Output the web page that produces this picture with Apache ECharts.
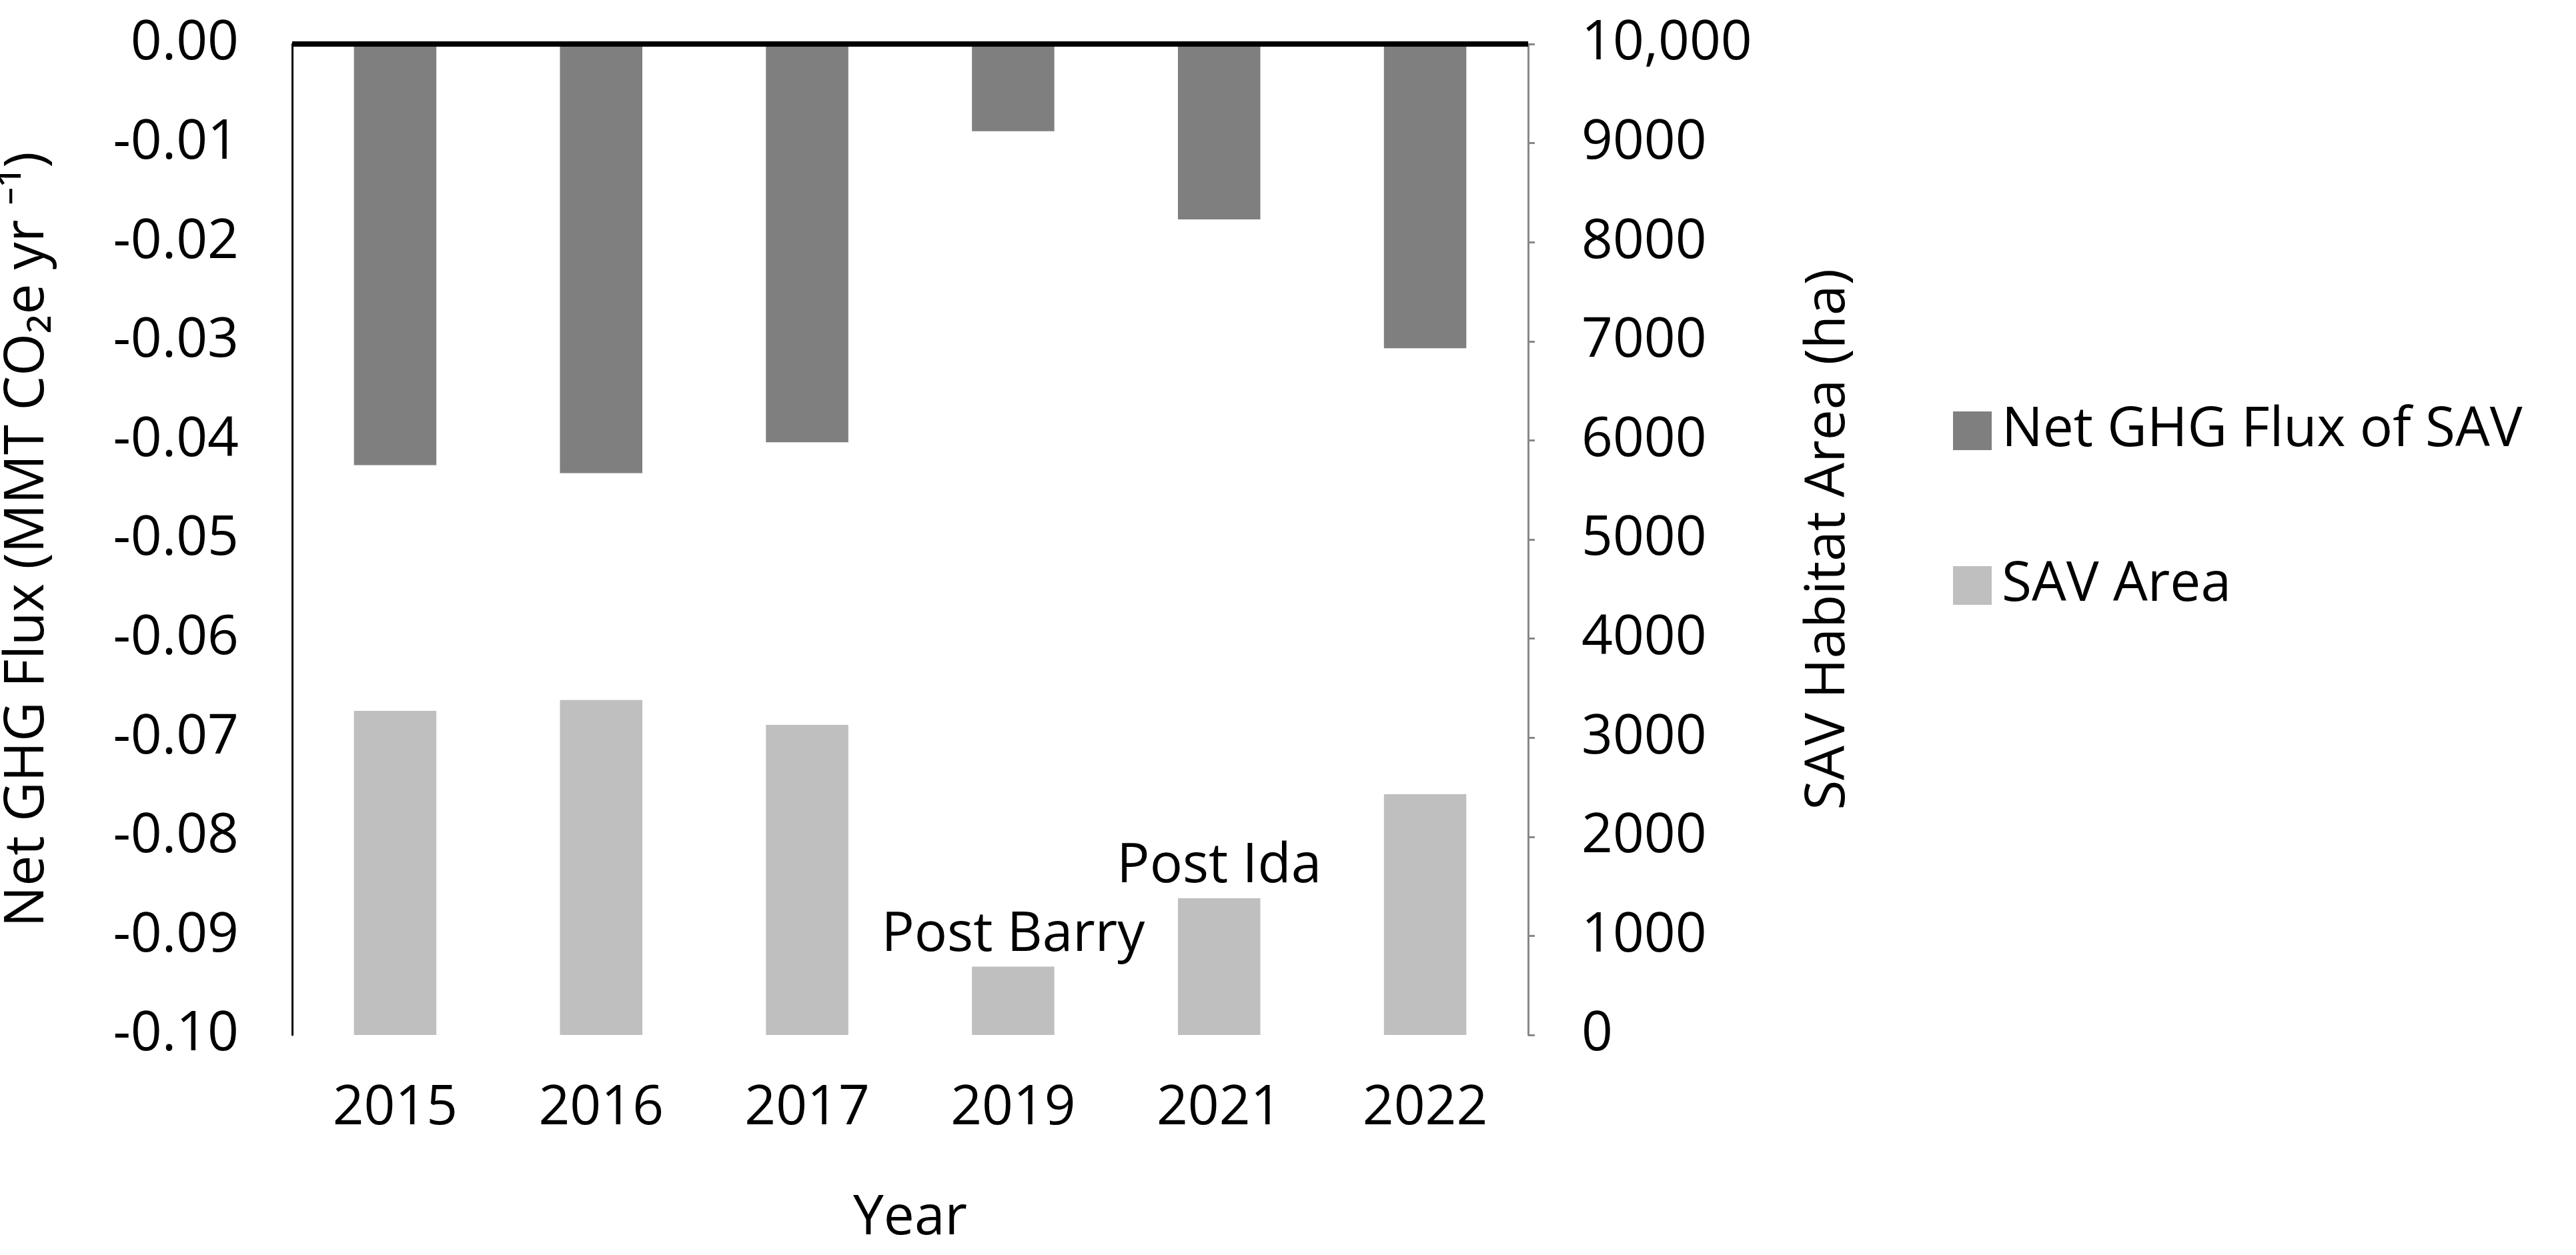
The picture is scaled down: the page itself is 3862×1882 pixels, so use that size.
<!DOCTYPE html>
<html>
<head>
<meta charset="utf-8">
<script src="https://cdn.jsdelivr.net/npm/echarts@6/dist/echarts.min.js"></script>
<style>html,body{margin:0;padding:0;background:#fff}#main{width:3862px;height:1882px}</style>
</head>
<body>
<div id="main"></div>
<script>
// categories and values
var years = ['2015', '2016', '2017', '2019', '2021', '2022'];
var fluxValues = [-0.0425, -0.0433, -0.0402, -0.0088, -0.0177, -0.0307];
var areaValues = [3270, 3380, 3130, 690, 1380, 2430];
var areaNotes = ['', '', '', 'Post Barry', 'Post Ida', ''];

var myChart = echarts.init(document.getElementById('main'));
var font = 'Open Sans';

var areaData = areaValues.map(function (v, i) {
    var item = { value: v };
    if (areaNotes[i]) {
        item.label = { show: true, position: 'top', formatter: areaNotes[i], distance: 6 };
    }
    return item;
});

var option = {
    animation: false,
    textStyle: { fontFamily: font, color: '#000' },
    grid: { left: 433, right: 1571, top: 66, bottom: 330 },
    legend: {
        orient: 'vertical',
        left: 2923,
        top: 600,
        icon: 'rect',
        itemWidth: 58,
        itemHeight: 58,
        itemGap: 150,
        textStyle: { fontSize: 82, fontFamily: font, color: '#000', padding: [0, 0, 0, 10] },
        data: ['Net GHG Flux of SAV', 'SAV Area']
    },
    xAxis: {
        type: 'category',
        data: years,
        name: 'Year',
        nameLocation: 'middle',
        nameGap: 235,
        nameTextStyle: { fontSize: 82, fontFamily: font },
        axisLine: { lineStyle: { color: '#333', width: 3 } },
        axisTick: { show: false },
        axisLabel: { fontSize: 82, margin: 70, color: '#000' }
    },
    yAxis: [{
        type: 'value',
        min: -0.1,
        max: 0,
        interval: 0.01,
        name: 'Net GHG Flux (MMT CO\u2082e yr \u207B\u00B9)',
        nameLocation: 'middle',
        nameGap: 355,
        nameTextStyle: { fontSize: 82, fontFamily: font },
        axisLine: { show: true, lineStyle: { color: '#000', width: 3 } },
        axisTick: { show: false },
        splitLine: { show: false },
        axisLabel: { fontSize: 82, margin: 80, color: '#000', formatter: function (v) { return v.toFixed(2); } }
    }, {
        type: 'value',
        min: 0,
        max: 10000,
        interval: 1000,
        name: 'SAV Habitat Area (ha)',
        nameLocation: 'middle',
        nameGap: 410,
        nameTextStyle: { fontSize: 82, fontFamily: font },
        axisLine: { show: true, lineStyle: { color: '#888', width: 3 } },
        axisTick: { show: true, length: 10, lineStyle: { color: '#888', width: 3 } },
        splitLine: { show: false },
        axisLabel: {
            fontSize: 82, margin: 80, color: '#000',
            formatter: function (v) { return v === 10000 ? '10,000' : String(v); }
        }
    }],
    series: [{
        name: 'Net GHG Flux of SAV',
        type: 'bar',
        yAxisIndex: 0,
        barWidth: '40%',
        barGap: '-100%',
        itemStyle: { color: '#7f7f7f' },
        data: fluxValues,
        markLine: {
            symbol: 'none',
            silent: true,
            label: { show: false },
            lineStyle: { color: '#000', width: 8, type: 'solid' },
            data: [{ yAxis: 0 }]
        }
    }, {
        name: 'SAV Area',
        type: 'bar',
        yAxisIndex: 1,
        barWidth: '40%',
        itemStyle: { color: '#bfbfbf' },
        label: { fontSize: 82, color: '#000', fontFamily: font },
        data: areaData
    }]
};

myChart.setOption(option);
</script>
</body>
</html>
